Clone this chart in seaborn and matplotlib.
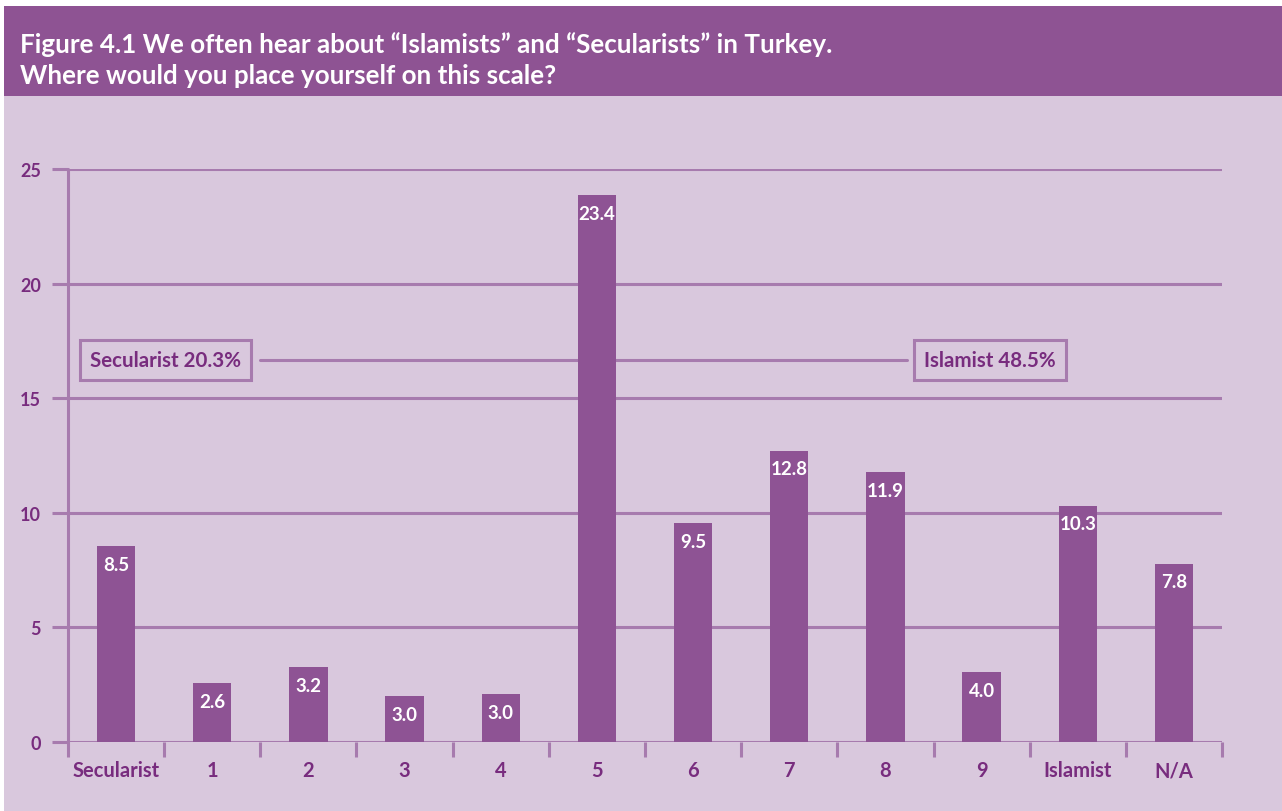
import matplotlib
matplotlib.use("Agg")
import matplotlib.pyplot as plt
import seaborn as sns
import pandas as pd
from matplotlib.patches import Rectangle
from matplotlib.lines import Line2D

categories = ["Secularist", "1", "2", "3", "4", "5", "6", "7", "8", "9", "Islamist", "N/A"]
bar_heights = [8.55, 2.57, 3.27, 2.0, 2.09, 23.85, 9.55, 12.7, 11.78, 3.05, 10.3, 7.77]
bar_labels = ["8.5", "2.6", "3.2", "3.0", "3.0", "23.4", "9.5", "12.8", "11.9", "4.0", "10.3", "7.8"]
y_ticks = [0, 5, 10, 15, 20, 25]
title_lines = ["Figure 4.1 We often hear about \u201cIslamists\u201d and \u201cSecularists\u201d in Turkey.",
               "Where would you place yourself on this scale?"]
secular_note = "Secularist 20.3%"
islamist_note = "Islamist 48.5%"

BG = "#D9C8DD"
HEAD = "#8E5393"
BAR = "#8E5394"
GRID = "#A77BAE"
TXT = "#782C7E"

sns.set_theme(style="white")
plt.rcParams["font.family"] = ["Lato", "DejaVu Sans"]

W, H = 1282, 812
fig = plt.figure(figsize=(W / 100, H / 100), dpi=100, facecolor="white")

def fx(px):
    return px / W

def fy(py):
    return 1 - py / H

# background panels
fig.patches.append(Rectangle((fx(4), 0), 1 - fx(4), fy(97), transform=fig.transFigure,
                             facecolor=BG, edgecolor="none", zorder=-5))
fig.patches.append(Rectangle((fx(4), fy(97)), 1 - fx(4), fy(7) - fy(97), transform=fig.transFigure,
                             facecolor=HEAD, edgecolor="none", zorder=-5))
fig.text(fx(20), fy(45), title_lines[0], color="white", fontsize=18.7, fontweight="bold",
         va="center", ha="left")
fig.text(fx(20), fy(76), title_lines[1], color="white", fontsize=18.7, fontweight="bold",
         va="center", ha="left")

ax = fig.add_axes([fx(68), fy(743), fx(1222) - fx(68), fy(170) - fy(743)])
ax.set_zorder(5)
ax.set_facecolor("none")

df = pd.DataFrame({"cat": categories, "val": bar_heights})
sns.barplot(data=df, x="cat", y="val", order=categories, color=BAR, saturation=1,
            width=0.4, ax=ax, zorder=3, edgecolor="none")

ax.set_xlim(-0.5, len(categories) - 0.5)
ax.set_ylim(0, 25)
ax.set_xlabel("")
ax.set_ylabel("")
for s in ax.spines.values():
    s.set_visible(False)

# horizontal gridlines
for t in y_ticks:
    ax.axhline(t, color=GRID, lw=2.2, zorder=1)
ax.set_yticks(y_ticks)
ax.set_yticklabels([str(t) for t in y_ticks], fontsize=13, fontweight="bold", color=TXT)
ax.tick_params(axis="y", length=11.5, width=2.2, color=GRID, pad=8, left=True)

# x ticks: labels at centers, marks at boundaries
ax.set_xticks(range(len(categories)))
ax.set_xticklabels(categories, fontsize=14.5, fontweight="bold", color=TXT)
ax.tick_params(axis="x", length=0, pad=13)
ax.set_xticks([i - 0.5 for i in range(len(categories) + 1)], minor=True)
ax.tick_params(axis="x", which="minor", length=11, width=2.2, color=GRID, bottom=True)

# left axis line
ax.add_line(Line2D([-0.5, -0.5], [0, 25], color=GRID, lw=2.2, zorder=2, clip_on=False))

# bar value labels
for i, (h, lab) in enumerate(zip(bar_heights, bar_labels)):
    ax.annotate(lab, (i, h), xytext=(0, -13), textcoords="offset points", ha="center",
                va="center", color="white", fontsize=13.5, fontweight="bold", zorder=4)

# annotation boxes
box = dict(boxstyle="square,pad=0.5", facecolor="none", edgecolor=GRID, lw=2.2)
ax.text(-0.27, 16.67, secular_note, ha="left", va="center", fontsize=14.8,
        fontweight="bold", color=TXT, bbox=box, zorder=2)
ax.text(8.40, 16.67, islamist_note, ha="left", va="center", fontsize=14.8,
        fontweight="bold", color=TXT, bbox=box, zorder=2)
ax.plot([1.496, 8.22], [16.65, 16.65], color=GRID, lw=2.2, zorder=1.5)

fig.savefig("out.png", dpi=100, facecolor="white")
